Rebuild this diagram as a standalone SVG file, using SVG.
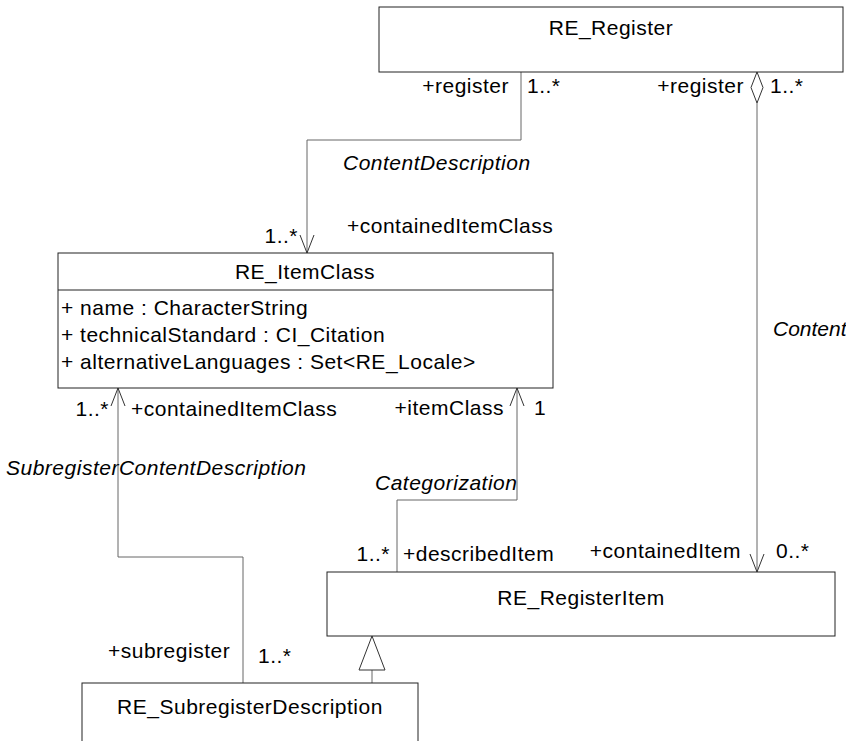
<svg xmlns="http://www.w3.org/2000/svg" width="846" height="741" viewBox="0 0 846 741">
  <style>
    .box { fill: #ffffff; stroke: #222222; stroke-width: 1; }
    .edge { fill: none; stroke: #666666; stroke-width: 1; }
    .head { fill: none; stroke: #333333; stroke-width: 1; }
    .tri { fill: #ffffff; stroke: #333333; stroke-width: 1; }
    text { font-family: "Liberation Sans", Arial, sans-serif; font-size: 21px; letter-spacing: 0.5px; fill: #000000; }
    .it { font-style: italic; }
    .c { text-anchor: middle; }
    .e { text-anchor: end; }
    .tight { letter-spacing: 0; }
  </style>
  <rect width="846" height="741" fill="#ffffff"/>

  <!-- connectors and their role / multiplicity labels -->
  <g id="connectors">
    <!-- ContentDescription: RE_Register -> RE_ItemClass -->
    <path class="edge" d="M521,72 V140 H307 V253"/>
    <path class="head" d="M300,235 L307,253 L314,235"/>
    <!-- Content: RE_Register (aggregate) -> RE_RegisterItem -->
    <path class="edge" d="M757,103 V572"/>
    <polygon class="tri" points="757,72 763,87.5 757,103 751,87.5"/>
    <path class="head" d="M750,554 L757,572 L764,554"/>
    <!-- SubregisterContentDescription -->
    <path class="edge" d="M118,388 V557 H243 V683"/>
    <path class="head" d="M111,406 L118,388 L125,406"/>
    <!-- Categorization -->
    <path class="edge" d="M517,388 V500 H397 V572"/>
    <path class="head" d="M510,406 L517,388 L524,406"/>
    <!-- generalization RE_SubregisterDescription -> RE_RegisterItem -->
    <path class="edge" d="M372,670 V683"/>
    <polygon class="tri" points="372,636 385,670 359,670"/>

    <text x="509" y="93" class="e">+register</text>
    <text x="527" y="93">1..*</text>
    <text x="744" y="93" class="e">+register</text>
    <text x="770" y="93">1..*</text>
    <text x="343" y="170" class="it">ContentDescription</text>
    <text x="347" y="233">+containedItemClass</text>
    <text x="298" y="243" class="e">1..*</text>
    <text x="773" y="336" class="it tight">Content</text>
    <text x="109" y="416" class="e">1..*</text>
    <text x="131" y="416">+containedItemClass</text>
    <text x="504" y="415" class="e">+itemClass</text>
    <text x="534" y="415">1</text>
    <text x="6" y="475" class="it">SubregisterContentDescription</text>
    <text x="375" y="490" class="it">Categorization</text>
    <text x="390" y="561" class="e">1..*</text>
    <text x="403" y="561">+describedItem</text>
    <text x="741" y="558" class="e">+containedItem</text>
    <text x="776" y="558">0..*</text>
    <text x="108" y="658">+subregister</text>
    <text x="258" y="663">1..*</text>
  </g>

  <g id="RE_Register">
    <rect class="box" x="379" y="7" width="464" height="65"/>
    <text x="611" y="35" class="c">RE_Register</text>
  </g>

  <g id="RE_ItemClass">
    <rect class="box" x="58" y="253" width="495" height="135"/>
    <line class="box" x1="58" y1="290" x2="553" y2="290"/>
    <text x="305" y="279" class="c">RE_ItemClass</text>
    <text x="61" y="315">+ name : CharacterString</text>
    <text x="61" y="342">+ technicalStandard : CI_Citation</text>
    <text x="61" y="369">+ alternativeLanguages : Set&lt;RE_Locale&gt;</text>
  </g>

  <g id="RE_RegisterItem">
    <rect class="box" x="327" y="572" width="508" height="64"/>
    <text x="581" y="605" class="c">RE_RegisterItem</text>
  </g>

  <g id="RE_SubregisterDescription">
    <rect class="box" x="82" y="683" width="336" height="70"/>
    <text x="250" y="714" class="c">RE_SubregisterDescription</text>
  </g>
</svg>
